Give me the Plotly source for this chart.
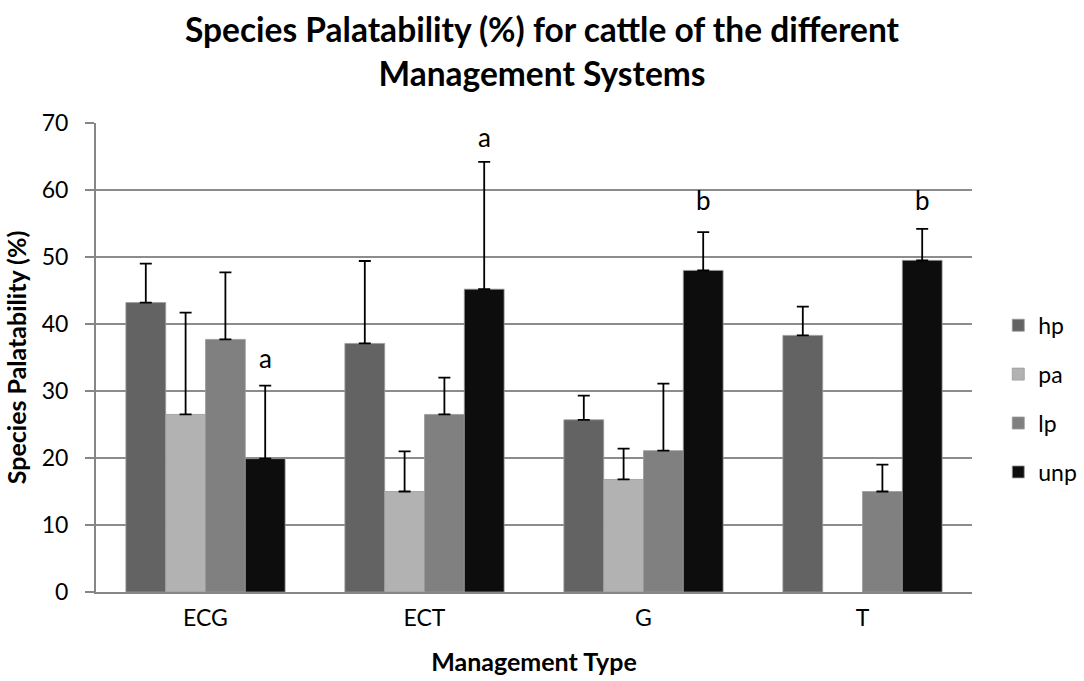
import plotly.graph_objects as go

categories = ["ECG", "ECT", "G", "T"]
series_names = ["hp", "pa", "lp", "unp"]
hp = [43.2, 37.1, 25.7, 38.3]
pa = [26.5, 15.0, 16.8, None]
lp = [37.7, 26.5, 21.1, 15.0]
unp = [19.9, 45.2, 48.0, 49.5]
hp_err = [5.8, 12.3, 3.6, 4.3]
pa_err = [15.2, 6.0, 4.6, 0]
lp_err = [10.0, 5.5, 10.0, 4.0]
unp_err = [10.9, 19.0, 5.7, 4.7]
letters = ["a", "a", "b", "b"]
letter_y = [34.9, 67.9, 58.5, 58.5]
y_ticks = [0, 10, 20, 30, 40, 50, 60, 70]

colors = ["#636363", "#b2b2b2", "#808080", "#0d0d0d"]
values = [hp, pa, lp, unp]
errors = [hp_err, pa_err, lp_err, unp_err]

FONT = "Lato"
bargap = 0.273

fig = go.Figure()
for i, (name, vals, errs) in enumerate(zip(series_names, values, errors)):
    fig.add_trace(go.Bar(
        name=name, x=categories, y=vals,
        marker=dict(color=colors[i], line=dict(color="#9a9a9a", width=0.8)),
        error_y=dict(type="data", array=errs, arrayminus=[0] * len(errs),
                     symmetric=False, color="black", thickness=1.8, width=6),
        legendgroup=name,
    ))

# letters above the unp bars
n = len(series_names)
bw = (1 - bargap) / n
unp_offset = (n - 1 - (n - 1) / 2) * bw
for k, (lab, ly) in enumerate(zip(letters, letter_y)):
    fig.add_annotation(x=k + unp_offset, y=ly, text=lab, showarrow=False,
                       xref="x", yref="y",
                       font=dict(family=FONT, size=26, color="black"))

fig.update_layout(
    width=1084, height=681,
    paper_bgcolor="white", plot_bgcolor="white",
    barmode="group", bargap=bargap, bargroupgap=0,
    margin=dict(l=96, r=112, t=123, b=89, autoexpand=False),
    title=dict(text="<b>Species Palatability (%) for cattle of the different<br>Management Systems</b>",
               x=0.5, xanchor="center", yref="container", y=0.938, yanchor="middle",
               font=dict(family=FONT, size=33.5, color="black")),
    font=dict(family=FONT, size=23, color="black"),
    showlegend=True,
    legend=dict(x=1.03, xanchor="left", y=0.412, yanchor="middle",
                font=dict(family=FONT, size=23, color="black"),
                traceorder="grouped", tracegroupgap=16,
                itemwidth=30, bgcolor="rgba(0,0,0,0)"),
)
fig.update_xaxes(
    type="category", showline=True, linecolor="#868686", linewidth=2,
    ticks="", tickfont=dict(family=FONT, size=23, color="black"),
    ticklabelstandoff=4,
    title=dict(text="<b>Management Type</b>", font=dict(family=FONT, size=25, color="black"),
               standoff=24),
    showgrid=False,
)
fig.update_yaxes(
    range=[0, 70], tickvals=y_ticks, showline=True, linecolor="#868686", linewidth=2,
    ticks="outside", ticklen=9, tickcolor="#868686", tickwidth=2,
    tickfont=dict(family=FONT, size=23, color="black"),
    ticklabelstandoff=12,
    showgrid=True, gridcolor="#8c8c8c", gridwidth=1.6,
    title=dict(text="<b>Species Palatability (%)</b>", font=dict(family=FONT, size=25, color="black"),
               standoff=8),
    zeroline=False,
)

fig.write_html("out.html", config={"displayModeBar": False},
               post_script="document.body.style.margin='0';")
